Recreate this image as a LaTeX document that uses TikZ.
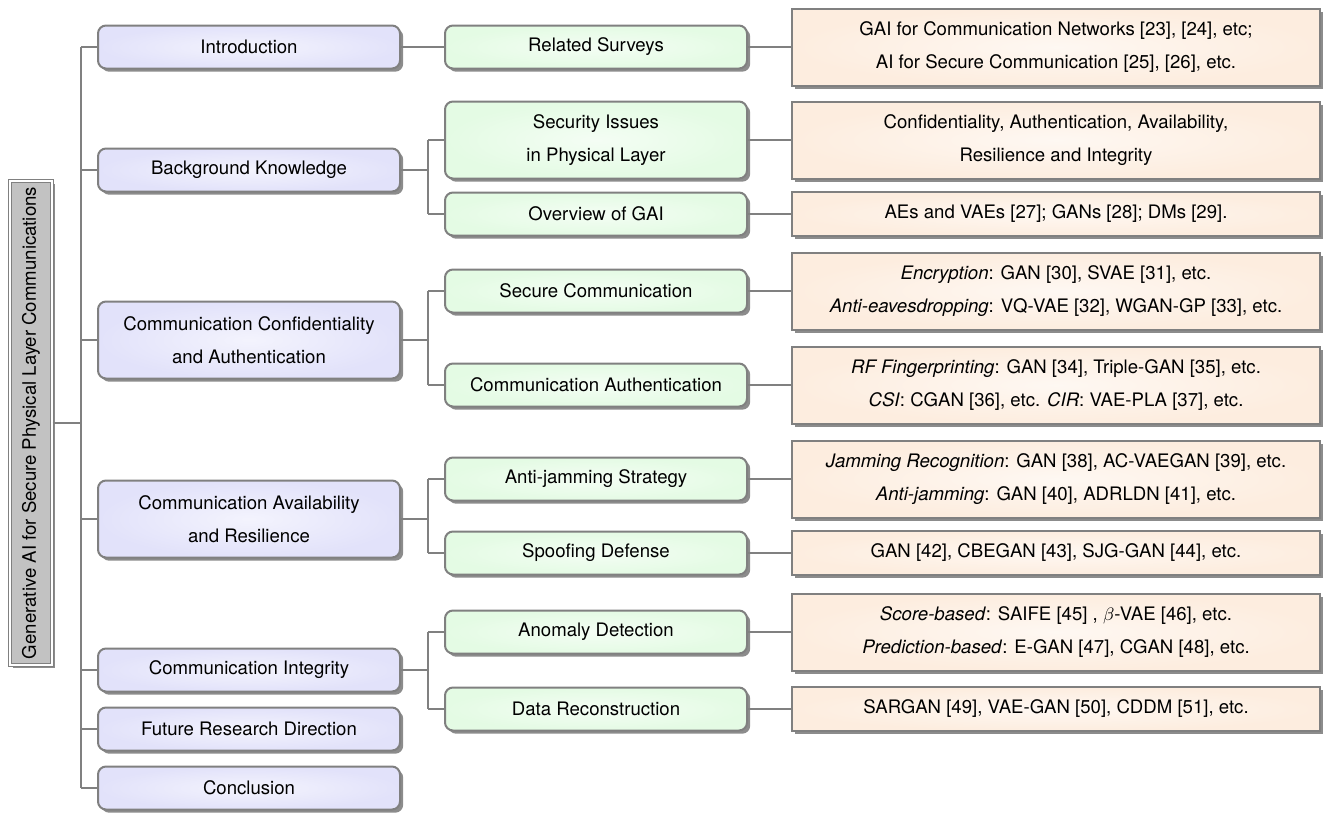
\documentclass[tikz,border=0pt]{standalone}
\usepackage{fontspec}
\setmainfont{TeX Gyre Heros}
\usetikzlibrary{shadows,positioning}
\definecolor{treeLine}{HTML}{808080}
\definecolor{rootFill}{HTML}{C2C2C2}
\definecolor{secFill}{HTML}{E2E2FA}
\definecolor{subFill}{HTML}{E4FBE4}
\definecolor{leafFill}{HTML}{FDEDDF}

\begin{document}
\begin{tikzpicture}[
  x=0.5pt, y=-0.5pt,
  font=\fontsize{9.3}{16.5}\selectfont,
  card/.style={
    draw=treeLine,
    line width=1pt,
    text=black,
    align=center,
    inner sep=2pt,
    drop shadow={shadow xshift=1.6pt, shadow yshift=-1.6pt, fill=black!45, opacity=1}
  },
  rootbox/.style={card, fill=rootFill, draw=treeLine, double=white, double distance=0.9pt,
    line width=0.5pt, rotate=90, minimum width=242pt, minimum height=21pt},
  sec/.style={card, rounded corners=4pt, inner color=secFill!40, outer color=secFill,
    minimum width=151pt, minimum height=21.5pt},
  sub/.style={card, rounded corners=4pt, inner color=subFill!40, outer color=subFill,
    minimum width=151pt, minimum height=21.5pt},
  leaf/.style={card, inner color=leafFill!40, outer color=leafFill,
    minimum width=264pt, minimum height=22pt},
  tall/.style={minimum height=38.5pt},
  link/.style={draw=treeLine, line width=1.3pt}
]
\useasboundingbox (0,0) rectangle (1323,815);

% root and first level
\node[rootbox] (root) at (31,423) {Generative AI for Secure Physical Layer Communications};
\node[sec] (intro) at (249,47) {Introduction};
\node[sec] (bk) at (249,170) {Background Knowledge};
\node[sec, tall] (conf) at (249,340) {Communication Confidentiality\\and Authentication};
\node[sec, tall] (avail) at (249,519) {Communication Availability\\and Resilience};
\node[sec] (integ) at (249,670) {Communication Integrity};
\node[sec] (future) at (249,729) {Future Research Direction};
\node[sec] (concl) at (249,788) {Conclusion};

% second level
\node[sub] (surveys) at (596,47) {Related Surveys};
\node[sub, tall] (issues) at (596,140) {Security Issues\\in Physical Layer};
\node[sub] (gai) at (596,214) {Overview of GAI};
\node[sub] (securecom) at (596,291) {Secure Communication};
\node[sub] (auth) at (596,385) {Communication Authentication};
\node[sub] (antijam) at (596,479) {Anti-jamming Strategy};
\node[sub] (spoof) at (596,553) {Spoofing Defense};
\node[sub] (anomaly) at (596,632) {Anomaly Detection};
\node[sub] (recon) at (596,709) {Data Reconstruction};

% third level
\node[leaf, tall] (surveys-leaf) at (1056,47) {GAI for Communication Networks [23], [24], etc;\\AI for Secure Communication [25], [26], etc.};
\node[leaf, tall] (issues-leaf) at (1056,140) {Confidentiality, Authentication, Availability,\\Resilience and Integrity};
\node[leaf] (gai-leaf) at (1056,214) {AEs and VAEs [27]; GANs [28]; DMs [29].};
\node[leaf, tall] (securecom-leaf) at (1056,291) {\textit{Encryption}: GAN [30], SVAE [31], etc.\\\textit{Anti-eavesdropping}: VQ-VAE [32], WGAN-GP [33], etc.};
\node[leaf, tall] (auth-leaf) at (1056,385) {\textit{RF Fingerprinting}: GAN [34], Triple-GAN [35], etc.\\\textit{CSI}: CGAN [36], etc. \textit{CIR}: VAE-PLA [37], etc.};
\node[leaf, tall] (antijam-leaf) at (1056,479) {\textit{Jamming Recognition}: GAN [38], AC-VAEGAN [39], etc.\\\textit{Anti-jamming}: GAN [40], ADRLDN [41], etc.};
\node[leaf] (spoof-leaf) at (1056,553) {GAN [42], CBEGAN [43], SJG-GAN [44], etc.};
\node[leaf, tall] (anomaly-leaf) at (1056,632) {\textit{Score-based}: SAIFE [45] , \textcolor{black}{$\beta$}-VAE [46], etc.\\\textit{Prediction-based}: E-GAN [47], CGAN [48], etc.};
\node[leaf] (recon-leaf) at (1056,709) {SARGAN [49], VAE-GAN [50], CDDM [51], etc.};

\coordinate (trunk) at (81,0);
\coordinate (split) at (428,0);

% trunk
\draw[link] (root.south) -- (root.south -| trunk);
\draw[link] (intro.west -| trunk) -- (concl.west -| trunk);
\foreach \s in {intro,bk,conf,avail,integ,future,concl}
  \draw[link] (\s.west -| trunk) -- (\s.west);

% first to second level
\draw[link] (intro) -- (surveys);
\draw[link] (bk.east) -- (bk.east -| split);
\draw[link] (issues.west -| split) -- (gai.west -| split);
\draw[link] (conf.east) -- (conf.east -| split);
\draw[link] (securecom.west -| split) -- (auth.west -| split);
\draw[link] (avail.east) -- (avail.east -| split);
\draw[link] (antijam.west -| split) -- (spoof.west -| split);
\draw[link] (integ.east) -- (integ.east -| split);
\draw[link] (anomaly.west -| split) -- (recon.west -| split);
\foreach \c in {issues,gai,securecom,auth,antijam,spoof,anomaly,recon}
  \draw[link] (\c.west -| split) -- (\c.west);

% second to third level
\foreach \c in {surveys,issues,gai,securecom,auth,antijam,spoof,anomaly,recon}
  \draw[link] (\c.east) -- (\c-leaf.west);
\end{tikzpicture}
\end{document}
